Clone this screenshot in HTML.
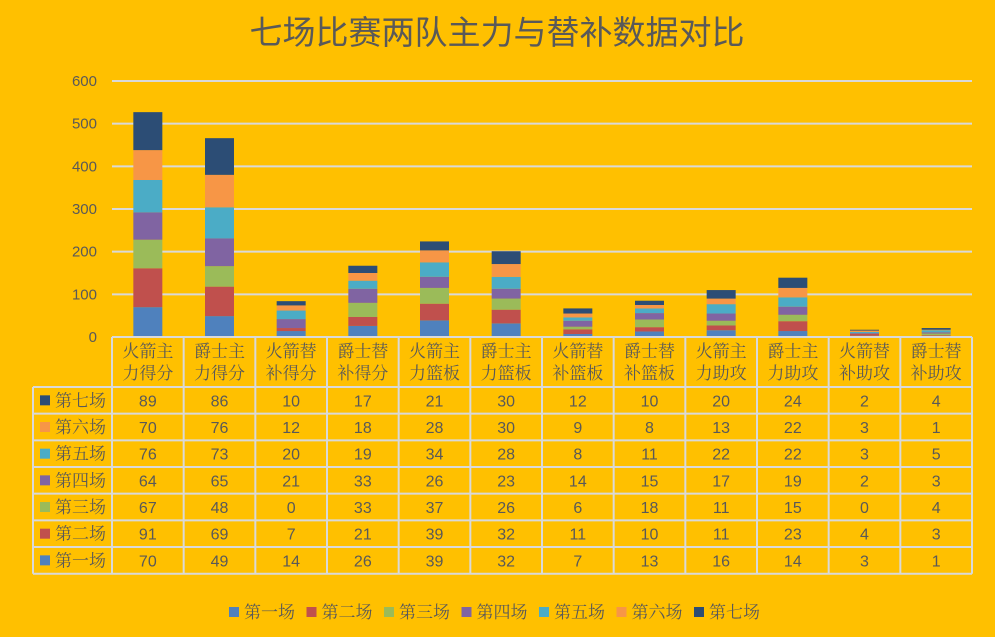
<!DOCTYPE html>
<html><head><meta charset="utf-8"><style>
html,body{margin:0;padding:0;background:#ffc000;}
svg{display:block;}
</style></head><body>
<svg id="c" width="995" height="637" xmlns="http://www.w3.org/2000/svg">
<rect width="995" height="637" fill="#ffc000"/>
<text x="497" y="44" text-anchor="middle" font-family="Liberation Sans, Noto Sans CJK SC, sans-serif" font-size="33" fill="#595959">七场比赛两队主力与替补数据对比</text>
<g id="grid"></g><g id="bars"></g><g id="table"></g><g id="legend"></g>
</svg>
<script>
const categories=[["火箭主","力得分"],["爵士主","力得分"],["火箭替","补得分"],["爵士替","补得分"],["火箭主","力篮板"],["爵士主","力篮板"],["火箭替","补篮板"],["爵士替","补篮板"],["火箭主","力助攻"],["爵士主","力助攻"],["火箭替","补助攻"],["爵士替","补助攻"]];
const seriesNames=["第一场","第二场","第三场","第四场","第五场","第六场","第七场"];
const game1=[70,49,14,26,39,32,7,13,16,14,3,1];
const game2=[91,69,7,21,39,32,11,10,11,23,4,3];
const game3=[67,48,0,33,37,26,6,18,11,15,0,4];
const game4=[64,65,21,33,26,23,14,15,17,19,2,3];
const game5=[76,73,20,19,34,28,8,11,22,22,3,5];
const game6=[70,76,12,18,28,30,9,8,13,22,3,1];
const game7=[89,86,10,17,21,30,12,10,20,24,2,4];
const yTicks=[0,100,200,300,400,500,600];
const series=[game1,game2,game3,game4,game5,game6,game7];
const colors=["#4f81bd","#c0504d","#9bbb59","#8064a2","#4bacc6","#f79646","#2c4d75"];
const NS="http://www.w3.org/2000/svg";
const X0=112,X1=972,Y0=337,Y600=81;
const cw=(X1-X0)/categories.length;
const y=v=>Y0-(v/600)*(Y0-Y600);
const xc=i=>X0+cw*(i+0.5);
function mk(t,a,p,txt){const e=document.createElementNS(NS,t);for(const k in a)e.setAttribute(k,a[k]);if(txt!==undefined)e.textContent=txt;p.appendChild(e);return e;}
const F="Liberation Sans, Noto Serif CJK SC, serif";
const grid=document.getElementById('grid');
yTicks.forEach(t=>{
  if(t>0){const l=mk('line',{x1:X0,x2:X1,y1:y(t),y2:y(t),stroke:'#d9d9d9','stroke-width':2},grid);
  
  }
  const tx=mk('text',{x:97,y:y(t)+5,'text-anchor':'end','font-family':'Liberation Sans, sans-serif','font-size':15,fill:'#595959'},grid,String(t));
  
  
});
const bars=document.getElementById('bars');
categories.forEach((c,i)=>{
  let acc=0;
  series.forEach((s,k)=>{
    const v=s[i];
    const r=mk('rect',{x:xc(i)-14.5,width:29,y:y(acc+v),height:y(acc)-y(acc+v),fill:colors[k]},bars);
    
    
    acc+=v;
  });
});
// table
const tb=document.getElementById('table');
const TL=33,RT=387,RH=26.67,TB=RT+RH*7;
const G={stroke:'#d9d9d9','stroke-width':2};
mk('line',Object.assign({x1:X0,x2:X1,y1:Y0,y2:Y0},G),tb);
for(let r=0;r<=7;r++){mk('line',Object.assign({x1:TL,x2:X1,y1:RT+r*RH,y2:RT+r*RH},G),tb);}
mk('line',Object.assign({x1:TL,x2:TL,y1:RT,y2:TB},G),tb);
for(let i=0;i<=categories.length;i++){const x=X0+i*cw;mk('line',Object.assign({x1:x,x2:x,y1:Y0,y2:TB},G),tb);}
categories.forEach((c,i)=>{
  const t=mk('text',{x:xc(i),'text-anchor':'middle','font-family':F,'font-size':17,fill:'#595959'},tb);
  
  
  mk('tspan',{x:xc(i),y:357},t,c[0]);mk('tspan',{x:xc(i),y:379},t,c[1]);
});
for(let r=0;r<7;r++){
  const k=6-r,cy=RT+r*RH+RH/2;
  const sw=mk('rect',{x:40,y:cy-5,width:10,height:10,fill:colors[k]},tb);
  
  
  const lt=mk('text',{x:55,y:cy+6,'font-family':F,'font-size':17,fill:'#595959'},tb,seriesNames[k]);
  
  
  categories.forEach((c,i)=>{
    const vt=mk('text',{x:xc(i),y:cy+6,'text-anchor':'middle','font-family':'Liberation Sans, sans-serif','font-size':16,fill:'#595959'},tb,String(series[k][i]));
    
    
  });
}
// legend
const lg=document.getElementById('legend');
let lx=229;
seriesNames.forEach((n,k)=>{
  const s=mk('rect',{x:lx,y:607,width:10,height:10,fill:colors[k]},lg);
  
  
  const t=mk('text',{x:lx+15,y:618,'font-family':F,'font-size':17,fill:'#595959'},lg,n);
  
  
  lx+=77.5;
});
</script>
</body></html>
